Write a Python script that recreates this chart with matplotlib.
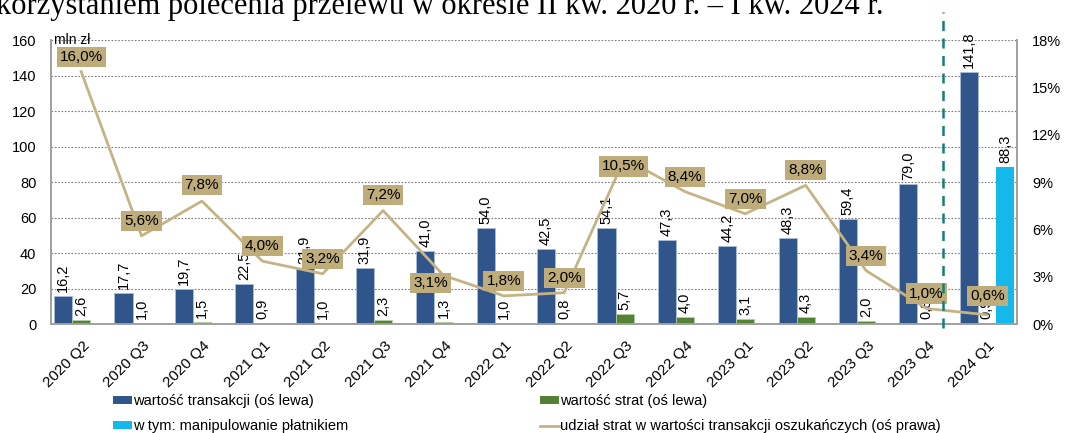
import numpy as np
import matplotlib
matplotlib.use("Agg")
import matplotlib.pyplot as plt
from matplotlib.patches import Patch
from matplotlib.lines import Line2D
import matplotlib.transforms as mtransforms

plt.rcParams['font.family'] = ['Liberation Sans', 'DejaVu Sans']

# dane
quarters = ["2020 Q2", "2020 Q3", "2020 Q4", "2021 Q1", "2021 Q2", "2021 Q3", "2021 Q4", "2022 Q1",
            "2022 Q2", "2022 Q3", "2022 Q4", "2023 Q1", "2023 Q2", "2023 Q3", "2023 Q4", "2024 Q1"]
transakcje = [16.2, 17.7, 19.7, 22.5, 31.9, 31.9, 41.0, 54.0, 42.5, 54.1, 47.3, 44.2, 48.3, 59.4, 79.0, 141.8]
straty = [2.6, 1.0, 1.5, 0.9, 1.0, 2.3, 1.3, 1.0, 0.8, 5.7, 4.0, 3.1, 4.3, 2.0, 0.8, 0.9]
manipulowanie = [0, 0, 0, 0, 0, 0, 0, 0, 0, 0, 0, 0, 0, 0, 0, 88.3]
udzial = [16.0, 5.6, 7.8, 4.0, 3.2, 7.2, 3.1, 1.8, 2.0, 10.5, 8.4, 7.0, 8.8, 3.4, 1.0, 0.6]

# przesuniecia etykiet procentowych (piksele), domyslnie nad punktem
label_shift = {6: (-13, -8), 9: (-1, -8), 2: (0, 16), 5: (0, 16), 15: (1, 19)}

c_blue = '#2F558A'
c_green = '#548235'
c_cyan = '#14B9EC'
c_tan = '#BEAC7A'
c_line = '#C4B384'

fig = plt.figure(figsize=(10.65, 4.33), dpi=100)
ax = fig.add_axes([51 / 1065, 1 - 324.3 / 433, (1017 - 51) / 1065, 284.3 / 433])
ax2 = ax.twinx()

x = np.arange(len(quarters))
w = 0.3
b1 = ax.bar(x - w, transakcje, w, color=c_blue, edgecolor='#A9BCD8', linewidth=0.6, zorder=2)
b2 = ax.bar(x, straty, w, color=c_green, edgecolor='#B5CCA5', linewidth=0.6, zorder=2)
b3 = ax.bar(x + w, manipulowanie, w, color=c_cyan, linewidth=0, zorder=2)

def fmt(v):
    return f"{v:.1f}".replace('.', ',')

for xs, vals in [(x - w, transakcje), (x, straty), (x + w, manipulowanie)]:
    for xi, v in zip(xs, vals):
        if v == 0:
            continue
        ax.annotate(fmt(v), (xi, v), xytext=(0, 4), textcoords='offset pixels',
                    rotation=90, ha='center', va='bottom', fontsize=10.5, zorder=3)

ax.set_ylim(0, 160)
ax.set_yticks(np.arange(0, 161, 20))
ax.set_xlim(-0.5, len(quarters) - 0.5)
ax.grid(axis='y', color='#7F7F7F', linestyle=(0, (1.5, 1.5)), linewidth=0.8, zorder=0)
ax.set_axisbelow(True)

ax2.plot(x, udzial, color=c_line, linewidth=2, zorder=4)
ax2.set_ylim(0, 18)
ax2.set_yticks(np.arange(0, 19, 3))
ax2.set_yticklabels([f"{t}%" for t in range(0, 19, 3)])

for i, v in enumerate(udzial):
    dx, dy = label_shift.get(i, (0, 15))
    ax2.annotate(fmt(v) + '%', (i, v), xytext=(dx, dy), textcoords='offset pixels',
                 ha='center', va='center', fontsize=11, zorder=5,
                 bbox=dict(boxstyle='square,pad=0.2', fc=c_tan, ec='none'))

# linia przerywana przed 2024 Q1
trans = mtransforms.blended_transform_factory(ax2.transData, ax2.transAxes)
ax2.plot([14.27, 14.27], [-0.013, 1.097], transform=trans, color='#147F72',
         linestyle=(0, (4, 3)), linewidth=1.8, clip_on=False, zorder=6)

for a in (ax, ax2):
    a.spines['top'].set_visible(False)
    for s in ['left', 'right', 'bottom']:
        a.spines[s].set_color('#A0A0A0')
        a.spines[s].set_linewidth(1.2)
    a.tick_params(length=0, labelsize=10.5)
ax.tick_params(axis='y', pad=10.5)
ax2.tick_params(axis='y', pad=11)

ax.set_xticks(x)
ax.set_xticklabels(quarters, rotation=45, ha='right', va='top', rotation_mode='anchor', fontsize=11)
ax.tick_params(axis='x', pad=10)
offset = mtransforms.ScaledTranslation(1 / 100, 0, fig.dpi_scale_trans)
for lab in ax.get_xticklabels():
    lab.set_transform(lab.get_transform() + offset)

ax.text(0.003, 1.0, 'mln zł', transform=ax.transAxes, ha='left', va='center', fontsize=10)

fig.text(-0.004, 1 - 14 / 433, 'korzystaniem polecenia przelewu w okresie II kw. 2020 r. – I kw. 2024 r.',
         family='Liberation Serif', fontsize=22, ha='left', va='baseline')

h_blue = Patch(facecolor=c_blue)
h_cyan = Patch(facecolor=c_cyan)
h_green = Patch(facecolor=c_green)
h_line = Line2D([], [], color=c_line, linewidth=2)
leg_kw = dict(frameon=False, fontsize=10.5, handlelength=1.3, handleheight=0.5,
              handletextpad=0.05, labelspacing=0.78, borderpad=0, borderaxespad=0, loc='upper left')
fig.legend([h_blue, h_cyan], ['wartość transakcji (oś lewa)', 'w tym: manipulowanie płatnikiem'],
           bbox_to_anchor=(113 / 1065, 1 - 394 / 433), **leg_kw)
fig.legend([h_green, h_line], ['wartość strat (oś lewa)', 'udział strat w wartości transakcji oszukańczych (oś prawa)'],
           bbox_to_anchor=(540 / 1065, 1 - 394 / 433), **leg_kw)

fig.savefig('out.png', dpi=100)
